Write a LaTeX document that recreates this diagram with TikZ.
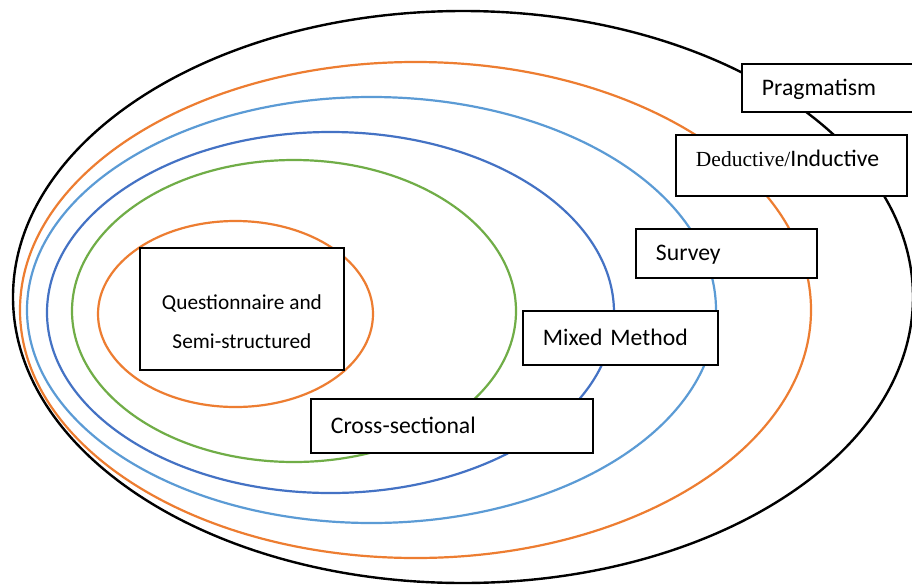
\documentclass[tikz,border=0pt]{standalone}
\usepackage{fontspec}
\setmainfont{Carlito}
\newfontfamily\timesfont{Liberation Serif}
\definecolor{offorange}{HTML}{ED7D31}
\definecolor{offlblue}{HTML}{5B9BD5}
\definecolor{offdblue}{HTML}{4472C4}
\definecolor{offgreen}{HTML}{70AD47}
\begin{document}
\begin{tikzpicture}[x=1pt,y=-1pt,
  ring/.style={line width=2.2pt},
  box/.style={draw=black, line width=1.9pt, fill=white, anchor=north west,
    inner xsep=20pt, inner ysep=0pt, align=left,
    font=\fontsize{23.7}{28}\selectfont, text height=15pt, text depth=0pt}]
\clip (0,0) rectangle (912,584);
\fill[white] (0,0) rectangle (912,584);
% nested ellipses
\draw[ring, black, line width=2.4pt] (463,297) ellipse [x radius=450pt, y radius=286pt];
\draw[ring, offorange] (415.5,310) ellipse [x radius=395.5pt, y radius=248pt];
\draw[ring, offlblue] (371.5,310) ellipse [x radius=344.5pt, y radius=213pt];
\draw[ring, offdblue] (330.5,312.5) ellipse [x radius=283.5pt, y radius=180.5pt];
\draw[ring, offgreen] (294,311) ellipse [x radius=222pt, y radius=151pt];
\draw[ring, offorange] (235.5,314) ellipse [x radius=137.5pt, y radius=93pt];
% labels
\node[box, minimum height=48pt, text width=200pt] (prag) at (741,63) {Pragmatism};
\node[box, minimum height=61pt, text width=191pt, text height=3pt] (ded) at (675,134)
  {{\timesfont\fontsize{21.5}{26}\selectfont Deductive/}Inductive};
\node[box, minimum height=49pt, text width=141pt] (surv) at (635,228) {Survey};
\node[box, minimum height=54pt, text width=155pt] (mixed) at (522,310) {Mixed Method};
\node[box, minimum height=54pt, text width=242pt] (cross) at (310,398) {Cross-sectional};
\node[box, minimum height=122pt, minimum width=204pt, inner xsep=0pt, align=center,
  text height=, text depth=, font=\fontsize{21.3}{39}\selectfont] (quest) at (139,247)
  {\rule{0pt}{41pt}Questionnaire and\\Semi-structured};
\end{tikzpicture}
\end{document}
